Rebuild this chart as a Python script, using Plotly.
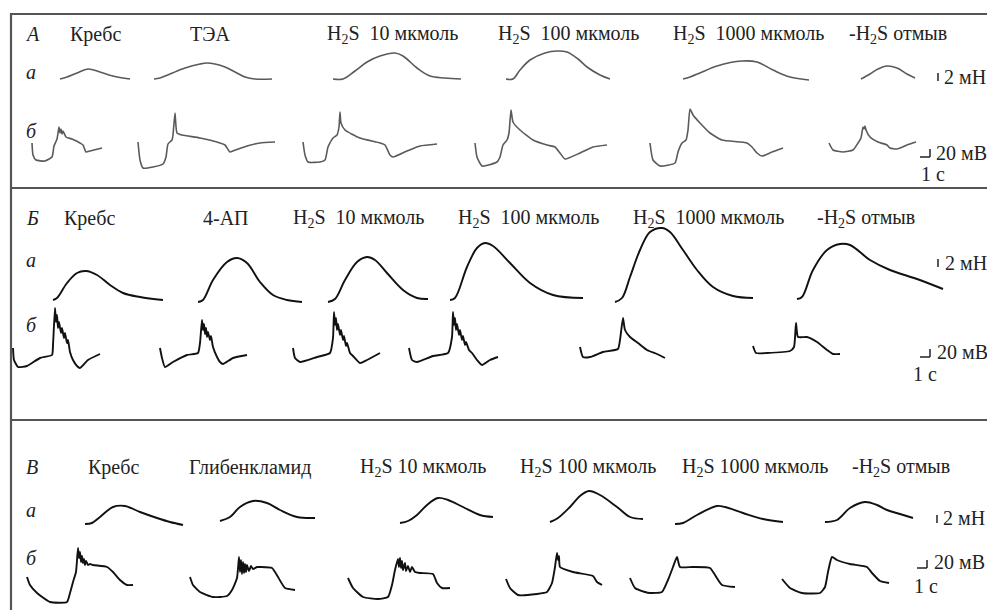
import plotly.graph_objects as go

# ---------------- DATA ----------------
# time in s, force in mN (a), membrane potential in mV (б), relative to each trace's start
A_conditions = ["Кребс", "ТЭА", "H<sub>2</sub>S\u00a0\u00a010 мкмоль", "H<sub>2</sub>S\u00a0\u00a0100 мкмоль",
                "H<sub>2</sub>S\u00a0\u00a01000 мкмоль", "-H<sub>2</sub>S отмыв"]
A_force_t = [
    [0, 0.7, 1.7, 2.8, 4.0, 5.3, 7.0],
    [0, 0.6, 1.6, 3.1, 4.6, 5.3, 6.1, 7.1, 8.1, 9.1, 10.1, 11.8],
    [0, 1.0, 2.2, 3.4, 4.7, 6.2, 7.0, 8.4, 9.7, 11.2, 12.8],
    [0, 0.7, 1.4, 2.4, 3.9, 5.1, 6.1, 7.2, 8.1, 9.4, 10.4],
    [0, 0.7, 1.7, 3.4, 5.9, 7.4, 9.0, 10.7, 12.6],
    [0, 0.9, 1.7, 2.6, 3.6, 4.6, 5.4],
]
A_force_mN = [
    [0, 0.5, 1.5, 2.5, 1.75, 0.75, 0],
    [0, 0.25, 1.25, 2.75, 3.75, 4, 3.75, 3, 1.75, 0.5, 0, 0],
    [0, 0, 2, 4.25, 5.75, 6.5, 5.75, 2.75, 0.75, 0.25, 0],
    [0, 0, 2.25, 4.75, 6.5, 7, 6.75, 5, 3, 1, 0],
    [0, 0.5, 1.5, 3.25, 4.5, 4.25, 2.25, 0.5, -0.25],
    [0, 1.25, 2.5, 3.25, 2.75, 1.25, 0.25],
]
A_pot_t = [
    [0, 0.1, 0.4, 1.3, 2.0, 2.2, 2.5, 2.7, 2.8, 2.9, 3.0, 3.1, 3.4, 4.0, 4.8, 5.1, 5.4, 5.8, 7.0],
    [0, 0.2, 0.5, 2.5, 2.8, 3.0, 3.4, 3.5, 3.7, 3.9, 4.4, 6.2, 8.2, 8.7, 9.2, 9.5, 10.9, 12.2, 13.7],
    [0, 0.2, 0.5, 1.7, 2.2, 2.5, 3.0, 3.4, 3.6, 3.7, 3.8, 4.2, 5.7, 7.7, 8.2, 8.7, 9.0, 10.4, 11.7, 13.4],
    [0, 0.2, 0.7, 2.2, 2.5, 2.8, 3.2, 3.4, 3.6, 3.8, 4.5, 5.8, 7.2, 8.0, 8.5, 9.0, 10.5, 11.8, 13.2],
    [0, 0.3, 1.0, 2.5, 2.8, 3.2, 3.6, 3.8, 4.0, 4.3, 5.0, 6.0, 7.2, 9.7, 10.2, 10.7, 11.2, 12.2, 13.3],
    [0, 0.4, 1.4, 2.4, 2.9, 3.2, 3.4, 3.5, 3.6, 3.7, 4.1, 4.9, 5.8, 6.1, 6.8, 7.8, 8.7],
]
A_pot_mV = [
    [0, -30, -42.5, -45, -35, -7.5, 10, 40, 25, 35, 22.5, 30, 15, 10, 0, -5, -22.5, -20, -12.5],
    [0, -45, -65, -55, -37.5, -5, 5, 17.5, 72.5, 22.5, 17.5, 10, -2.5, -7.5, -25, -22.5, -10, -2.5, 0],
    [0, -32.5, -50, -50, -45, -12.5, 10, 17.5, 37.5, 75, 47.5, 30, 10, -2.5, -7.5, -32.5, -37.5, -22.5, -10, -5],
    [0, -35, -57.5, -47.5, -35, -5, 7.5, 25, 82.5, 52.5, 32.5, 7.5, -5, -10, -25, -40, -25, -10, -5],
    [0, -42.5, -57.5, -50, -22.5, 0, 7.5, 32.5, 85, 70, 50, 25, 7.5, 0, -10, -25, -32.5, -22.5, -12.5],
    [0, -17.5, -22.5, -17.5, 0, 12.5, 40, 35, 42.5, 32.5, 15, 2.5, -5, -12.5, -15, -5, 2.5],
]

B_conditions = ["Кребс", "4-АП", "H<sub>2</sub>S\u00a0\u00a010 мкмоль", "H<sub>2</sub>S\u00a0\u00a0100 мкмоль",
                "H<sub>2</sub>S\u00a0\u00a01000 мкмоль", "-H<sub>2</sub>S отмыв"]
B_force_t = [
    [0, 0.4, 1.4, 2.4, 3.3, 4.4, 5.7, 7.0, 8.7, 11.0],
    [0, 0.5, 1.5, 2.9, 3.9, 4.9, 6.2, 7.5, 8.9, 10.4],
    [0, 0.7, 1.7, 2.9, 3.9, 4.7, 5.9, 7.5, 8.9, 10.0],
    [0, 0.5, 1.7, 2.7, 3.5, 4.3, 6.0, 8.0, 10.3, 13.3],
    [0, 0.7, 1.5, 2.5, 3.5, 4.7, 5.5, 6.8, 8.2, 9.8, 11.8, 13.8],
    [0, 0.5, 1.6, 3.0, 4.3, 5.3, 7.3, 9.3, 12.0, 14.6],
]
B_force_mN = [
    [0, 0.5, 4.25, 6.75, 7.25, 6.25, 3.75, 1.75, 0.75, 0],
    [0, 0.5, 5.5, 10, 11, 9.75, 5, 1.75, 0.5, 0],
    [0, 0.75, 5.5, 10, 11.25, 10.5, 7.25, 3, 1, 0.75],
    [0, 0.5, 8.25, 13, 14.25, 13.5, 9.25, 4.25, 1.25, 0.5],
    [0, 1, 6.25, 13, 17.5, 18.5, 17.5, 13, 8, 3.75, 1.5, 1],
    [0, 0.5, 7.25, 12.25, 13.75, 13.5, 9.75, 7.25, 5, 2.5],
]
B_pot_t = [
    [0, 0.1, 0.5, 1.4, 2.7, 3.9, 4.0, 4.2, 4.3, 4.4, 4.5, 4.6, 4.8, 4.9, 5.1, 5.2, 5.4, 5.5, 5.7, 6.0, 6.4, 6.7, 7.5, 8.7],
    [0, 0.2, 0.5, 1.3, 2.7, 3.8, 4.0, 4.2, 4.3, 4.4, 4.5, 4.6, 4.7, 4.8, 5.0, 5.1, 5.3, 5.7, 6.0, 6.3, 7.3, 8.7],
    [0, 0.2, 0.7, 2.4, 3.7, 4.0, 4.1, 4.2, 4.3, 4.4, 4.5, 4.7, 4.8, 5.0, 5.1, 5.3, 5.4, 5.7, 6.0, 6.7, 7.4, 8.7],
    [0, 0.3, 0.8, 2.4, 3.9, 4.3, 4.4, 4.5, 4.6, 4.7, 4.8, 5.0, 5.1, 5.3, 5.4, 5.6, 5.7, 6.0, 6.3, 6.8, 7.3, 8.1, 8.9],
    [0, 0.3, 1.0, 2.3, 3.8, 4.0, 4.3, 4.5, 5.0, 5.8, 6.7, 7.7, 8.5],
    [0, 0.3, 1.4, 3.7, 4.1, 4.3, 4.5, 5.4, 6.4, 7.4, 8.0, 8.7],
]
B_pot_mV = [
    [0, -30, -47.5, -45, -25, -17.5, 7.5, 100, 65, 82.5, 50, 65, 37.5, 50, 25, 37.5, 12.5, 20, -10, -30, -45, -50, -30, -15],
    [0, -25, -47.5, -35, -17.5, -12.5, 12.5, 70, 45, 60, 35, 50, 27.5, 40, 20, 30, 2.5, -22.5, -35, -40, -25, -17.5],
    [0, -25, -35, -22.5, -12.5, 25, 90, 57.5, 75, 45, 60, 32.5, 45, 20, 30, 5, 12.5, -12.5, -20, -37.5, -30, -12.5],
    [0, -30, -35, -20, -12.5, 27.5, 90, 57.5, 75, 45, 60, 32.5, 45, 20, 30, 7.5, 15, -5, -12.5, -30, -42.5, -30, -22.5],
    [0, -25, -25, -12.5, -5, 17.5, 72.5, 42.5, 25, 10, -7.5, -17.5, -27.5],
    [0, -17.5, -17.5, -12.5, -2.5, 57.5, 22.5, 22.5, 10, -10, -20, -20],
]

C_conditions = ["Кребс", "Глибенкламид", "H<sub>2</sub>S 10 мкмоль", "H<sub>2</sub>S 100 мкмоль",
                "H<sub>2</sub>S 1000 мкмоль", "-H<sub>2</sub>S отмыв"]
C_force_t = [
    [0, 0.7, 1.5, 2.8, 4.0, 5.5, 7.2, 8.5, 9.8],
    [0, 1.0, 2.0, 3.3, 4.7, 6.0, 7.7, 9.5],
    [0, 0.8, 1.7, 2.7, 3.8, 4.8, 6.3, 8.0, 9.3],
    [0, 0.8, 2.0, 3.0, 3.9, 5.0, 6.7, 8.0, 9.3],
    [0, 0.8, 2.2, 4.2, 5.0, 6.8, 8.8, 10.8],
    [0, 1.2, 2.5, 4.0, 5.2, 6.2, 7.5, 8.8],
]
C_force_mN = [
    [0, 0.25, 1.75, 4.25, 4.5, 3, 1.5, 0.5, -0.25],
    [0, 1, 3.5, 5, 4.5, 2.75, 1, 0.75],
    [0, 0.5, 2, 4.5, 6.25, 5.75, 4, 2, 1.5],
    [0, 1, 3.75, 6.5, 7.75, 6.75, 3.75, 1.25, 0.75],
    [0, 0.25, 2.25, 4.5, 4.25, 2.75, 1.25, 0.5],
    [0, 0.5, 3.5, 5, 4.25, 3, 2, 1],
]
C_pot_t = [
    [0, 0.3, 1.0, 2.3, 4.0, 4.3, 4.6, 4.9, 5.1, 5.2, 5.3, 5.4, 5.5, 5.6, 5.7, 5.8, 5.9, 6.1, 6.3, 6.6, 8.0, 8.6, 9.3, 10.0, 10.6],
    [0, 0.3, 1.0, 2.3, 3.7, 4.2, 4.7, 4.9, 5.0, 5.1, 5.2, 5.3, 5.4, 5.5, 5.6, 5.7, 5.9, 6.1, 6.3, 6.7, 7.0, 8.2, 8.8, 9.5, 10.5],
    [0, 0.5, 1.5, 3.0, 4.0, 4.4, 4.7, 5.0, 5.1, 5.2, 5.3, 5.4, 5.5, 5.7, 5.8, 6.0, 6.2, 6.4, 6.7, 7.2, 8.5, 8.9, 9.4, 10.2],
    [0, 0.4, 1.2, 3.1, 4.1, 4.6, 4.9, 5.1, 5.2, 5.3, 5.4, 6.7, 8.7, 9.1, 9.6],
    [0, 0.5, 1.5, 2.0, 3.2, 3.8, 4.3, 4.7, 5.0, 6.3, 8.0, 8.5, 9.2, 10.5],
    [0, 0.8, 2.0, 3.8, 4.3, 4.6, 5.0, 5.5, 6.8, 8.5, 9.0, 9.8, 10.7],
]
C_pot_mV = [
    [0, -20, -40, -62.5, -62.5, -40, -12.5, 12.5, 72.5, 47.5, 62.5, 37.5, 52.5, 35, 45, 30, 40, 30, 32.5, 30, 25, 12.5, -7.5, -20, -20],
    [0, -20, -37.5, -50, -47.5, -32.5, -2.5, 50, 12.5, 42.5, 7.5, 37.5, 10, 32.5, 12.5, 30, 15, 27.5, 20, 25, 25, 22.5, 0, -27.5, -32.5],
    [0, -25, -47.5, -52.5, -47.5, -17.5, 20, 47.5, 27.5, 50, 25, 42.5, 20, 37.5, 17.5, 30, 15, 27.5, 15, 12.5, 10, -12.5, -25, -25],
    [0, -22.5, -40, -37.5, -32.5, -10, 30, 65, 47.5, 57.5, 30, 17.5, 7.5, -7.5, -15],
    [0, -25, -35, -37.5, -35, -5, 27.5, 52.5, 27.5, 27.5, 25, 7.5, -17.5, -22.5],
    [0, -22.5, -35, -35, -20, 17.5, 55, 47.5, 37.5, 30, 15, -5, -10],
]

# ---------------- LAYOUT (placement in page pixels) ----------------
W, H = 987, 610
PX_PER_S, PX_PER_MN, PX_PER_MV = 10, 4, 0.4

panels = [
    dict(letter="A", cond=A_conditions, ft=A_force_t, fv=A_force_mN, pt=A_pot_t, pv=A_pot_mV,
         label_x=[95, 210, 392, 568, 748, 898], label_y=34, row_a_y=72, row_b_y=131,
         force_org=[(60, 79), (154, 79), (333, 79), (506, 79), (683, 79), (861, 79)],
         pot_org=[(32, 143), (138, 142), (303, 142), (475, 143), (650, 143), (829, 143)],
         color="#5a5a5a", width=1.6,
         mn_bar=(938, 81), mv_bar=(930, 157), mn_text=(942, 77), mv_text=(934, 153), s_text=(919, 174)),
    dict(letter="Б", cond=B_conditions, ft=B_force_t, fv=B_force_mN, pt=B_pot_t, pv=B_pot_mV,
         label_x=[89, 226, 358, 528, 708, 866], label_y=218, row_a_y=260, row_b_y=325,
         force_org=[(53, 300), (198, 302), (328, 302), (450, 300), (615, 302), (797, 299)],
         pot_org=[(13, 348), (160, 348), (293, 348), (409, 348), (580, 347), (753, 346)],
         color="#111111", width=1.9,
         mn_bar=(938, 267), mv_bar=(930, 357), mn_text=(943, 263), mv_text=(935, 352), s_text=(911, 374)),
    dict(letter="В", cond=C_conditions, ft=C_force_t, fv=C_force_mN, pt=C_pot_t, pv=C_pot_mV,
         label_x=[113, 250, 423, 588, 755, 901], label_y=467, row_a_y=510, row_b_y=558,
         force_org=[(85, 524), (220, 521), (400, 523), (550, 522), (675, 524), (825, 522)],
         pot_org=[(27, 577), (190, 577), (348, 578), (506, 579), (630, 578), (782, 579)],
         color="#111111", width=1.9,
         mn_bar=(937, 523), mv_bar=(927, 568), mn_text=(941, 518), mv_text=(932, 562), s_text=(912, 586)),
]

FONT = "Liberation Serif"
fig = go.Figure()
annotations = []
shapes = []

def ann(x, y, text, size=20, xanchor="center"):
    annotations.append(dict(x=x, y=y, xref="x", yref="y", text=text, showarrow=False,
                            xanchor=xanchor, yanchor="middle",
                            font=dict(family=FONT, size=size, color="#222")))

for p in panels:
    # condition labels
    ann(32, p["label_y"], "<i>%s</i>" % p["letter"])
    for lx, txt in zip(p["label_x"], p["cond"]):
        ann(lx, p["label_y"], txt)
    ann(31, p["row_a_y"], "<i>а</i>")
    ann(31, p["row_b_y"], "<i>б</i>")
    # force traces (a)
    for (x0, y0), t, v in zip(p["force_org"], p["ft"], p["fv"]):
        fig.add_trace(go.Scatter(x=[x0 + ti * PX_PER_S for ti in t],
                                 y=[y0 - vi * PX_PER_MN for vi in v],
                                 mode="lines", line=dict(color=p["color"], width=p["width"],
                                                         shape="spline", smoothing=1.0),
                                 hoverinfo="skip", showlegend=False))
    # membrane potential traces (б)
    for (x0, y0), t, v in zip(p["pot_org"], p["pt"], p["pv"]):
        fig.add_trace(go.Scatter(x=[x0 + ti * PX_PER_S for ti in t],
                                 y=[y0 - vi * PX_PER_MV for vi in v],
                                 mode="lines", line=dict(color=p["color"], width=p["width"],
                                                         shape="spline", smoothing=0.5),
                                 hoverinfo="skip", showlegend=False))
    # scale bars
    bx, by = p["mn_bar"]
    shapes.append(dict(type="line", xref="x", yref="y", x0=bx, x1=bx, y0=by, y1=by - 2 * PX_PER_MN,
                       line=dict(color="#222", width=1.5)))
    ann(p["mn_text"][0], p["mn_text"][1], "2 мН", xanchor="left")
    vx, vy = p["mv_bar"]
    shapes.append(dict(type="line", xref="x", yref="y", x0=vx - 1 * PX_PER_S, x1=vx, y0=vy, y1=vy,
                       line=dict(color="#222", width=1.5)))
    shapes.append(dict(type="line", xref="x", yref="y", x0=vx, x1=vx, y0=vy, y1=vy - 20 * PX_PER_MV,
                       line=dict(color="#222", width=1.5)))
    ann(p["mv_text"][0], p["mv_text"][1], "20 мВ", xanchor="left")
    ann(p["s_text"][0], p["s_text"][1], "1 с", xanchor="left")

# frame
FRAME = "#555555"
shapes.append(dict(type="line", xref="x", yref="y", x0=11, x1=W, y0=14, y1=14, line=dict(color=FRAME, width=2.2)))
shapes.append(dict(type="line", xref="x", yref="y", x0=11, x1=11, y0=13, y1=H, line=dict(color=FRAME, width=2.2)))
shapes.append(dict(type="line", xref="x", yref="y", x0=11, x1=W, y0=188, y1=188, line=dict(color=FRAME, width=2.2)))
shapes.append(dict(type="line", xref="x", yref="y", x0=11, x1=W, y0=420, y1=420, line=dict(color=FRAME, width=2.2)))

fig.update_layout(
    width=W, height=H, margin=dict(l=0, r=0, t=0, b=0),
    paper_bgcolor="white", plot_bgcolor="white",
    xaxis=dict(range=[0, W], visible=False, fixedrange=True),
    yaxis=dict(range=[H, 0], visible=False, fixedrange=True),
    annotations=annotations, shapes=shapes, showlegend=False,
)
fig.write_html("out.html", config={"displayModeBar": False})
